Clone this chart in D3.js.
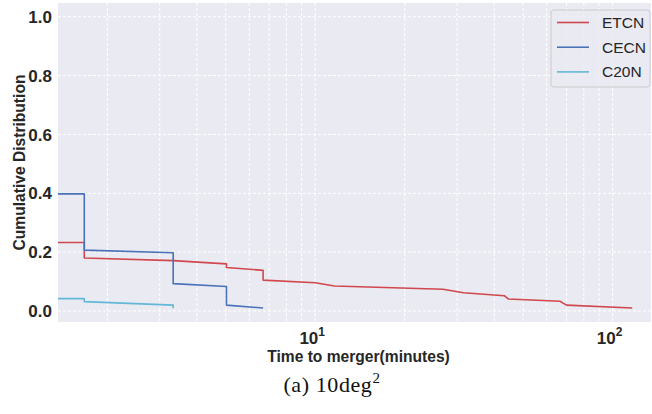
<!DOCTYPE html>
<html><head><meta charset="utf-8">
<script src="https://cdn.jsdelivr.net/npm/d3@7"></script>
<style>body{margin:0;background:#fff}svg{display:block}</style>
</head><body><div id="c"></div>
<script>
const seriesNames = ["ETCN", "CECN", "C20N"];
const seriesColors = ["#d1474e", "#4a72b8", "#62b8d6"];
const etcnTime = [1.365, 1.673, 1.673, 3.33, 5.03, 5.03, 6.68, 6.68, 10, 11.6, 26.9, 31.5, 43.2, 44.6, 66.5, 70.0, 116.4];
const etcnValue = [0.233, 0.233, 0.180, 0.171, 0.160, 0.148, 0.138, 0.105, 0.096, 0.085, 0.074, 0.062, 0.052, 0.041, 0.033, 0.020, 0.010];
const cecnTime = [1.365, 1.673, 1.673, 3.33, 3.33, 5.03, 5.03, 6.68];
const cecnValue = [0.398, 0.398, 0.207, 0.198, 0.093, 0.083, 0.020, 0.010];
const c20nTime = [1.365, 1.673, 1.673, 3.33, 3.33];
const c20nValue = [0.042, 0.042, 0.032, 0.020, 0.009];
const yTicks = [0.0, 0.2, 0.4, 0.6, 0.8, 1.0];
const xMajorTicks = [10, 100];
const xMinorTicks = [2, 3, 4, 5, 6, 7, 8, 9, 20, 30, 40, 50, 60, 70, 80, 90];
const xLabel = "Time to merger(minutes)";
const yLabel = "Cumulative Distribution";

const W = 652, H = 414;
const L = 58, R = 651, T = 3, B = 322;
const svg = d3.select("#c").append("svg").attr("width", W).attr("height", H);
const x = d3.scaleLog().domain([1.365, 134.6]).range([L, R]);
const y = d3.scaleLinear().domain([-0.0374, 1.0466]).range([B, T]);

svg.append("rect").attr("x", L).attr("y", T).attr("width", R - L).attr("height", B - T).attr("fill", "#eaeaf2");

const grid = svg.append("g").attr("stroke", "#fff").attr("stroke-width", 1).attr("stroke-dasharray", "3,2");
grid.selectAll(".vx").data(xMajorTicks.concat(xMinorTicks).filter(v => v >= x.domain()[0] && v <= x.domain()[1]))
  .enter().append("line").attr("x1", d => x(d)).attr("x2", d => x(d)).attr("y1", T).attr("y2", B);
grid.selectAll(".hy").data(yTicks).enter().append("line")
  .attr("x1", L).attr("x2", R).attr("y1", d => y(d)).attr("y2", d => y(d));

const font = "'Liberation Sans', Arial, sans-serif";
// y ticks
svg.append("g").selectAll("text").data(yTicks).enter().append("text")
  .attr("x", 52).attr("y", d => y(d)).attr("dy", "0.36em").attr("text-anchor", "end")
  .attr("font-family", font).attr("font-weight", "bold").attr("font-size", 17).attr("fill", "#262626")
  .text(d => d.toFixed(1));
// x ticks
const xt = svg.append("g").selectAll("text").data(xMajorTicks).enter().append("text")
  .attr("x", d => x(d) - 3).attr("y", 344).attr("text-anchor", "middle")
  .attr("font-family", font).attr("font-weight", "bold").attr("font-size", 17).attr("fill", "#262626");
xt.append("tspan").text("10");
xt.append("tspan").attr("dy", -8).attr("font-size", 12).text(d => Math.round(Math.log10(d)));

svg.append("text").attr("x", (L + R) / 2 + 4).attr("y", 362).attr("text-anchor", "middle")
  .attr("font-family", font).attr("font-weight", "bold").attr("font-size", 15.6).attr("fill", "#262626").text(xLabel);
svg.append("text").attr("transform", `translate(25,${(T + B) / 2}) rotate(-90)`).attr("text-anchor", "middle")
  .attr("font-family", font).attr("font-weight", "bold").attr("font-size", 15.6).attr("fill", "#262626").text(yLabel);

// caption
const cap = svg.append("text").attr("x", 332).attr("y", 392).attr("text-anchor", "middle")
  .attr("font-family", "'Liberation Serif', 'DejaVu Serif', serif").attr("font-size", 22).attr("fill", "#111")
  .attr("letter-spacing", 0.6);
cap.append("tspan").text("(a)  10deg");
cap.append("tspan").attr("dy", -9).attr("font-size", 15).text("2");

// lines
svg.append("clipPath").attr("id", "clip").append("rect").attr("x", L).attr("y", T).attr("width", R - L).attr("height", B - T);
const seriesData = [
  d3.zip(etcnTime, etcnValue),
  d3.zip(cecnTime, cecnValue),
  d3.zip(c20nTime, c20nValue)
];
const line = d3.line().x(d => x(d[0])).y(d => y(d[1]));
const lg = svg.append("g").attr("clip-path", "url(#clip)");
seriesData.forEach((s, i) => {
  lg.append("path").attr("d", line(s)).attr("fill", "none").attr("stroke", seriesColors[i])
    .attr("stroke-width", 1.6).attr("stroke-linejoin", "round");
});

// legend
const leg = svg.append("g");
leg.append("rect").attr("x", 551).attr("y", 10).attr("width", 99).attr("height", 77).attr("rx", 3)
  .attr("fill", "#eaeaf2").attr("fill-opacity", 0.8).attr("stroke", "#cccccc").attr("stroke-width", 1);
seriesNames.forEach((n, i) => {
  const yy = 22.5 + i * 24.7;
  leg.append("line").attr("x1", 557).attr("x2", 589).attr("y1", yy).attr("y2", yy)
    .attr("stroke", seriesColors[i]).attr("stroke-width", 1.6);
  leg.append("text").attr("x", 602).attr("y", yy).attr("dy", "0.36em")
    .attr("font-family", font).attr("font-size", 15.5).attr("fill", "#262626").text(n);
});
</script></body></html>
